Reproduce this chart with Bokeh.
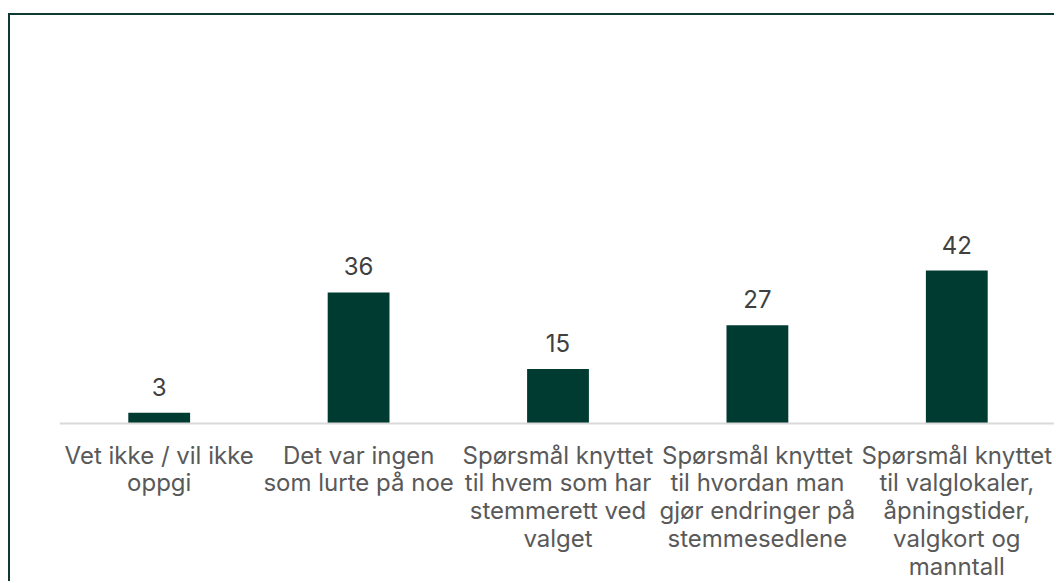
from bokeh.plotting import figure
from bokeh.models import ColumnDataSource, FactorRange, Range1d, LabelSet, Span
from bokeh.core.properties import value
from bokeh.embed import file_html
from bokeh.resources import INLINE

categories = [
    "Vet ikke / vil ikke oppgi",
    "Det var ingen som lurte på noe",
    "Spørsmål knyttet til hvem som har stemmerett ved valget",
    "Spørsmål knyttet til hvordan man gjør endringer på stemmesedlene",
    "Spørsmål knyttet til valglokaler, åpningstider, valgkort og manntall",
]
tick_labels = [
    "Vet ikke / vil ikke\noppgi",
    "Det var ingen\nsom lurte på noe",
    "Spørsmål knyttet\ntil hvem som har\nstemmerett ved\nvalget",
    "Spørsmål knyttet\ntil hvordan man\ngjør endringer på\nstemmesedlene",
    "Spørsmål knyttet\ntil valglokaler,\nåpningstider,\nvalgkort og\nmanntall",
]
values = [3, 36, 15, 27, 42]
value_labels = [str(v) for v in values]

BAR = "#003B32"
FONT = "Inter"

src = ColumnDataSource(dict(cat=categories, val=values, lab=value_labels,
                            tick=tick_labels, zero=[0] * len(values)))

p = figure(
    x_range=FactorRange(*categories),
    y_range=Range1d(-43.9, 112),
    width=1046, height=568,
    output_backend="svg", toolbar_location=None,
    min_border_left=49, min_border_right=0, min_border_top=0, min_border_bottom=0,
    styles={"border-left": "2px solid #0E3A33", "border-top": "2px solid #0E3A33",
            "margin-top": "13px", "margin-left": "8px"},
)
p.outline_line_color = None
p.background_fill_color = "white"
p.border_fill_color = "white"
p.grid.visible = False
p.axis.visible = False

p.add_layout(Span(location=0, dimension="width", line_color="#D9D9D9", line_width=2))

p.vbar(x="cat", top="val", width=0.31, source=src, fill_color=BAR, line_color=None)

labels = LabelSet(x="cat", y="val", text="lab", source=src, text_align="center",
                  text_baseline="alphabetic", y_offset=17, text_font=value(FONT),
                  text_font_size="24px", text_color="#404040")
p.add_layout(labels)

p.text(x="cat", y="zero", text="tick", source=src, text_align="center",
       text_baseline="top", y_offset=17, text_font=value(FONT),
       text_font_size="24px", text_color="#595959", text_line_height=0.96)

open("out.html", "w").write(file_html(p, INLINE))
